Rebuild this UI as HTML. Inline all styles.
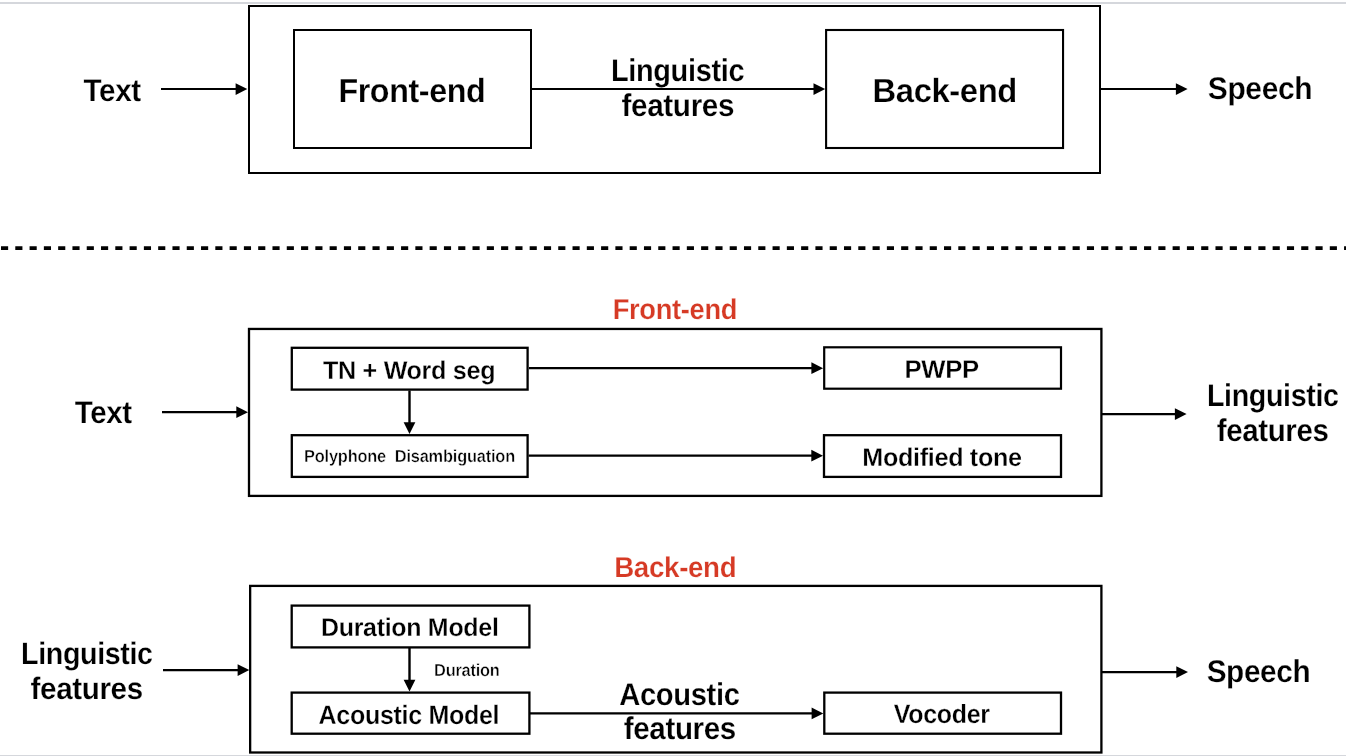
<!DOCTYPE html>
<html lang="en">
<head>
<meta charset="utf-8">
<title>TTS pipeline: front-end and back-end</title>
<style>
html,body{margin:0;padding:0;background:#fff;}
body{width:1346px;height:756px;overflow:hidden;position:relative;}
.rule{position:absolute;left:0;width:1346px;background:#d5d7dc;}
svg{position:absolute;left:0;top:0;display:block;will-change:transform;}
svg text{font-family:"Liberation Sans",sans-serif;font-weight:700;stroke-linejoin:round;white-space:pre;text-rendering:geometricPrecision;}
</style>
</head>
<body>
<div class="rule" style="top:2px;height:2px"></div>
<div class="rule" style="top:755px;height:1px"></div>
<svg width="1346" height="756" viewBox="0 0 1346 756">
<g>
<text transform="translate(83.53 101) scale(0.9430 1)" fill="#000" stroke="#fff" stroke-width="0.22" style="font-size:31.4px;letter-spacing:-0.38px;">Text</text>
<text transform="translate(338.41 102) scale(0.9650 1)" fill="#000" stroke="#fff" stroke-width="0.22" style="font-size:33.4px;letter-spacing:-0.4px;">Front-end</text>
<text transform="translate(872.57 102) scale(0.9813 1)" fill="#000" stroke="#fff" stroke-width="0.22" style="font-size:33.4px;letter-spacing:-0.4px;">Back-end</text>
<text transform="translate(610.92 81) scale(0.9223 1)" fill="#000" stroke="#fff" stroke-width="0.22" style="font-size:31.4px;letter-spacing:-0.38px;">Linguistic</text>
<text transform="translate(621.51 116) scale(0.9457 1)" fill="#000" stroke="#fff" stroke-width="0.22" style="font-size:31.4px;letter-spacing:-0.38px;">features</text>
<text transform="translate(1207.83 99) scale(0.9538 1)" fill="#000" stroke="#fff" stroke-width="0.22" style="font-size:31.4px;letter-spacing:-0.38px;">Speech</text>
<text transform="translate(612.70 319) scale(0.9482 1)" fill="#d63a25" stroke="#fff" stroke-width="0.22" style="font-size:28.8px;letter-spacing:-0.35px;">Front-end</text>
<text transform="translate(74.83 423) scale(0.9380 1)" fill="#000" stroke="#fff" stroke-width="0.22" style="font-size:31.4px;letter-spacing:-0.38px;">Text</text>
<text transform="translate(323.03 379) scale(0.9816 1)" fill="#000" stroke="#fff" stroke-width="0.28" style="font-size:25.6px;letter-spacing:-0.31px;">TN + Word seg</text>
<text transform="translate(304.01 462) scale(0.9369 1)" fill="#000" stroke="#fff" stroke-width="0.4" style="font-size:17.5px;letter-spacing:-0.21px;">Polyphone  Disambiguation</text>
<text transform="translate(904.52 378) scale(1.0028 1)" fill="#000" stroke="#fff" stroke-width="0.28" style="font-size:25.6px;letter-spacing:-0.31px;">PWPP</text>
<text transform="translate(862.36 466) scale(0.9815 1)" fill="#000" stroke="#fff" stroke-width="0.28" style="font-size:25.6px;letter-spacing:-0.31px;">Modified tone</text>
<text transform="translate(1206.95 406) scale(0.9117 1)" fill="#000" stroke="#fff" stroke-width="0.22" style="font-size:31.4px;letter-spacing:-0.38px;">Linguistic</text>
<text transform="translate(1216.71 441) scale(0.9389 1)" fill="#000" stroke="#fff" stroke-width="0.22" style="font-size:31.4px;letter-spacing:-0.38px;">features</text>
<text transform="translate(614.17 577) scale(0.9632 1)" fill="#d63a25" stroke="#fff" stroke-width="0.22" style="font-size:28.8px;letter-spacing:-0.35px;">Back-end</text>
<text transform="translate(21.03 664) scale(0.9256 1)" fill="#000" stroke="#fff" stroke-width="0.22" style="font-size:30.929px;letter-spacing:-0.37px;">Linguistic</text>
<text transform="translate(30.60 699) scale(0.9565 1)" fill="#000" stroke="#fff" stroke-width="0.22" style="font-size:30.929px;letter-spacing:-0.37px;">features</text>
<text transform="translate(320.97 636) scale(0.9760 1)" fill="#000" stroke="#fff" stroke-width="0.28" style="font-size:25.6px;letter-spacing:-0.31px;">Duration Model</text>
<text transform="translate(318.58 724) scale(0.9397 1)" fill="#000" stroke="#fff" stroke-width="0.28" style="font-size:26.624000000000002px;letter-spacing:-0.32px;">Acoustic Model</text>
<text transform="translate(434.02 676) scale(0.9343 1)" fill="#000" stroke="#fff" stroke-width="0.4" style="font-size:17.5px;letter-spacing:-0.21px;">Duration</text>
<text transform="translate(619.27 705) scale(0.9283 1)" fill="#000" stroke="#fff" stroke-width="0.22" style="font-size:31.4px;letter-spacing:-0.38px;">Acoustic</text>
<text transform="translate(623.71 739) scale(0.9423 1)" fill="#000" stroke="#fff" stroke-width="0.22" style="font-size:31.4px;letter-spacing:-0.38px;">features</text>
<text transform="translate(893.84 723) scale(0.9471 1)" fill="#000" stroke="#fff" stroke-width="0.28" style="font-size:26.368000000000002px;letter-spacing:-0.32px;">Vocoder</text>
<text transform="translate(1206.63 682) scale(0.9472 1)" fill="#000" stroke="#fff" stroke-width="0.22" style="font-size:31.4px;letter-spacing:-0.38px;">Speech</text>
</g>
<g>
<rect x="249" y="6" width="851" height="167" fill="none" stroke="#000" stroke-width="2"/>
<rect x="294" y="30" width="237" height="118" fill="none" stroke="#000" stroke-width="2"/>
<rect x="826.1" y="30" width="236.95" height="118" fill="none" stroke="#000" stroke-width="2.1"/>
<path d="M161 89.1H236.6" fill="none" stroke="#000" stroke-width="2"/>
<path d="M247.3 89.1L235.6 83.2V95.0Z" fill="#000"/>
<path d="M532 89.1H814.5" fill="none" stroke="#000" stroke-width="2"/>
<path d="M825.2 89.1L813.5 83.2V95.0Z" fill="#000"/>
<path d="M1101 89.1H1176.9" fill="none" stroke="#000" stroke-width="2"/>
<path d="M1187.6 89.1L1175.9 83.2V95.0Z" fill="#000"/>
<path d="M1 248.1H1346" fill="none" stroke="#000" stroke-width="3.6" stroke-dasharray="7.14 7.148"/>
<rect x="249" y="328.95" width="852.4" height="166.95" fill="none" stroke="#000" stroke-width="2.3"/>
<rect x="291.8" y="347.8" width="235.8" height="41.8" fill="none" stroke="#000" stroke-width="2.3"/>
<rect x="291.8" y="435.2" width="235.8" height="41.7" fill="none" stroke="#000" stroke-width="2.3"/>
<rect x="824.2" y="347.3" width="236.8" height="41.4" fill="none" stroke="#000" stroke-width="2.2"/>
<rect x="824" y="435.2" width="237" height="41.7" fill="none" stroke="#000" stroke-width="2.3"/>
<path d="M162 412.15H237.3" fill="none" stroke="#000" stroke-width="2.2"/>
<path d="M248 412.15L236.3 406.25V418.05Z" fill="#000"/>
<path d="M529 368.2H812.4" fill="none" stroke="#000" stroke-width="2.2"/>
<path d="M823.1 368.2L811.4 362.3V374.1Z" fill="#000"/>
<path d="M528.6 455.7H812.3" fill="none" stroke="#000" stroke-width="2.2"/>
<path d="M823 455.7L811.3 449.8V461.6Z" fill="#000"/>
<path d="M409.5 390.5V423.3" fill="none" stroke="#000" stroke-width="2.4"/>
<path d="M409.5 434.0L403.6 422.3H415.4Z" fill="#000"/>
<path d="M1102 414.1H1175.9" fill="none" stroke="#000" stroke-width="2.3"/>
<path d="M1186.6 414.1L1174.9 408.2V420.0Z" fill="#000"/>
<rect x="250.15" y="585.9" width="851.25" height="166.6" fill="none" stroke="#000" stroke-width="2.3"/>
<rect x="291.7" y="605.6" width="237.7" height="41.8" fill="none" stroke="#000" stroke-width="2.3"/>
<rect x="291.7" y="692.6" width="237.7" height="41.1" fill="none" stroke="#000" stroke-width="2.3"/>
<rect x="824.3" y="692.6" width="236.7" height="41.1" fill="none" stroke="#000" stroke-width="2.3"/>
<path d="M163 670.1H238.6" fill="none" stroke="#000" stroke-width="2.3"/>
<path d="M249.3 670.1L237.6 664.2V676.0Z" fill="#000"/>
<path d="M409.5 648V680.8" fill="none" stroke="#000" stroke-width="2.4"/>
<path d="M409.5 691.5L403.6 679.8H415.4Z" fill="#000"/>
<path d="M530 713.4H812.6" fill="none" stroke="#000" stroke-width="2.3"/>
<path d="M823.3 713.4L811.6 707.5V719.3Z" fill="#000"/>
<path d="M1102 672.1H1177.3" fill="none" stroke="#000" stroke-width="2.3"/>
<path d="M1188.0 672.1L1176.3 666.2V678.0Z" fill="#000"/>
</g>
</svg>
</body>
</html>
